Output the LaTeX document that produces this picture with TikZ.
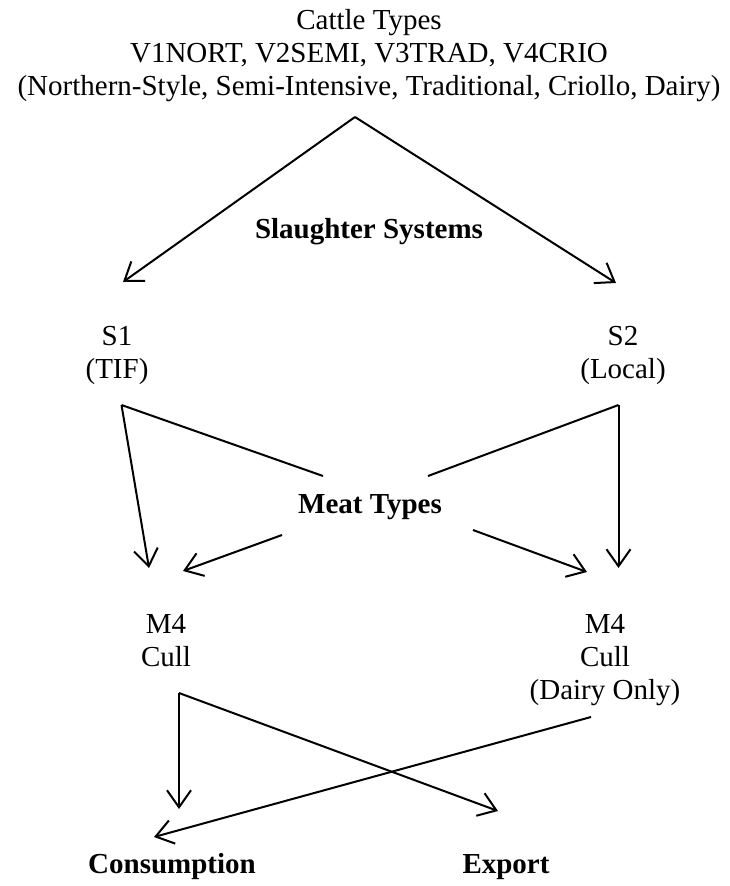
\documentclass[tikz,border=0pt]{standalone}
\usepackage{fontspec}
\setmainfont{Liberation Serif}
\usetikzlibrary{arrows.meta}
\begin{document}
\begin{tikzpicture}[x=1pt,y=-1pt,
  lbl/.style={inner sep=0pt, align=center, anchor=base, font=\fontsize{29}{33}\selectfont},
  blbl/.style={lbl, font=\fontsize{29}{33}\selectfont\bfseries},
  conn/.style={line width=2pt},
  arr/.style={conn, -{Straight Barb[length=17pt,width=24pt]}}]
\path[use as bounding box] (0,0) rectangle (730,886);
% text nodes (base anchor = baseline of the last line)
\node[lbl] (cattle) at (369,95) {Cattle Types\\V1NORT, V2SEMI, V3TRAD, V4CRIO\\(Northern-Style, Semi-Intensive, Traditional, Criollo, Dairy)};
\node[blbl] (slaughter) at (369,238) {Slaughter Systems};
\node[lbl] (s1) at (117,378) {S1\\(TIF)};
\node[lbl] (s2) at (623,378) {S2\\(Local)};
\node[blbl] (meat) at (370,513) {Meat Types};
\node[lbl] (m4l) at (166,666) {M4\\Cull};
\node[lbl] (m4r) at (605,699) {M4\\Cull\\(Dairy Only)};
\node[blbl] (cons) at (172,873) {Consumption};
\node[blbl] (export) at (506,873) {Export};
% connector end points
\coordinate (cOut) at (355,117);
\coordinate (s1In) at (123,282);
\coordinate (s2In) at (616,283);
\coordinate (s1Out) at (121.5,405);
\coordinate (s2Out) at (618.5,405);
\coordinate (meatInL) at (323,476);
\coordinate (meatInR) at (428,476);
\coordinate (meatOutL) at (282,535);
\coordinate (meatOutR) at (473,530);
\coordinate (m4lInA) at (149,568);
\coordinate (m4lInB) at (183,571);
\coordinate (m4rInA) at (587,572);
\coordinate (m4rInB) at (618.5,568);
\coordinate (m4lOut) at (179,693);
\coordinate (m4rOut) at (591,717);
\coordinate (consIn) at (179,809);
\coordinate (consInB) at (154,837);
\coordinate (exportIn) at (498,811);
% connectors
\draw[arr] (cOut) -- (s1In);
\draw[arr] (cOut) -- (s2In);
\draw[arr] (s1Out) -- (m4lInA);
\draw[conn] (s1Out) -- (meatInL);
\draw[arr] (s2Out) -- (m4rInB);
\draw[conn] (s2Out) -- (meatInR);
\draw[arr] (meatOutL) -- (m4lInB);
\draw[arr] (meatOutR) -- (m4rInA);
\draw[arr] (m4lOut) -- (consIn);
\draw[arr] (m4lOut) -- (exportIn);
\draw[arr] (m4rOut) -- (consInB);
\end{tikzpicture}
\end{document}
